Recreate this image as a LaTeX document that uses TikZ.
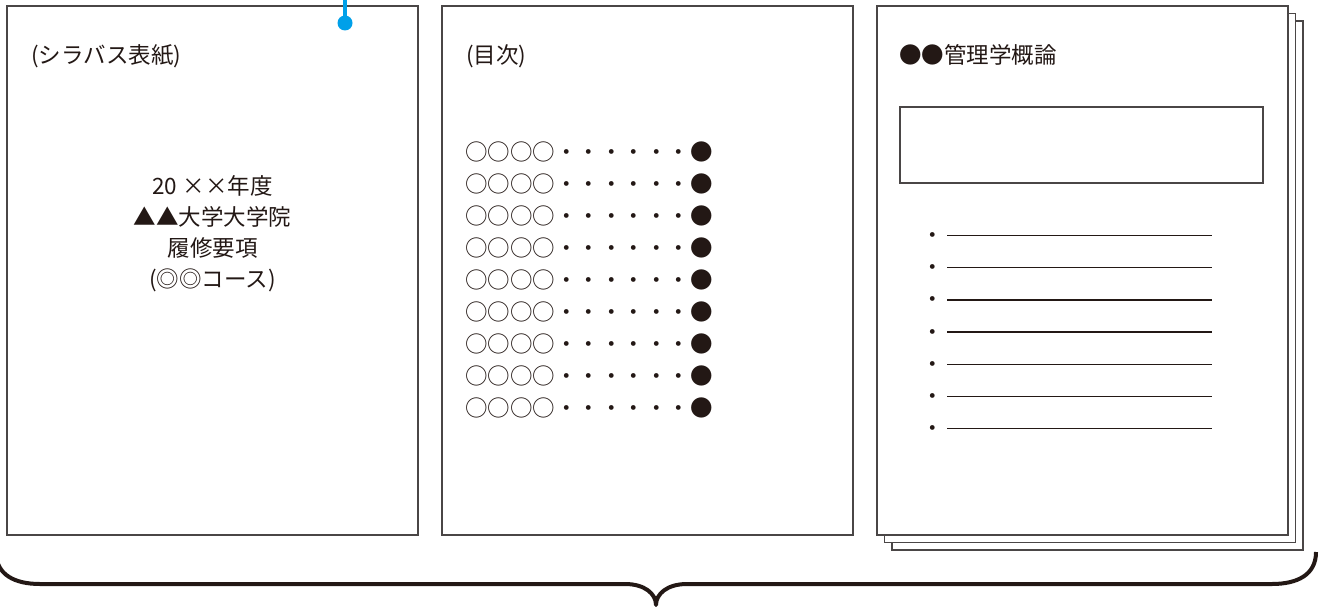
\documentclass[tikz,border=0pt]{standalone}
\usepackage{fontspec}
\usepackage{tikz}
\newfontfamily\jp{Noto Sans CJK JP}
\definecolor{cInk}{HTML}{231815}
\definecolor{cLine}{HTML}{4A4646}
\definecolor{cPin}{HTML}{00A0E9}
\newcommand{\fw}[1]{{\addfontfeature{RawFeature=+fwid}#1}}

\begin{document}
\begin{tikzpicture}[x=1pt, y=-1pt,
  every node/.style={font=\jp\fontsize{22.5}{31}\selectfont, text=cInk, inner sep=0pt},
  page/.style={draw=cLine, line width=1.2pt, fill=white},
  rule/.style={draw=cInk, line width=1.4pt},
  lead/.style={draw=cPin, line width=3.2pt},
  pin/.style={circle, fill=cPin, minimum size=15pt},
  brace/.style={draw=cInk, line width=4pt, line join=round}]
  \useasboundingbox (0,0) rectangle (1319,607);
  \draw[page] (7,6) rectangle (418,535);
  \draw[page] (442,6) rectangle (853,535);
  \foreach \d in {15,7.5,0}
    \draw[page] (877+\d,6+\d) rectangle (1288+\d,535+\d);
  \draw[page] (900,107) rectangle (1263,183);
  \coordinate (pintop) at (345,0);
  \node[pin] (pin) at (345,23) {};
  \draw[lead] (pintop) -- (pin.center);
  \node[anchor=base west] (covertitle) at (31,64) {(シラバス表紙)};
  \foreach \t [count=\i from 0] in {20 \fw{××}年度, ▲▲大学大学院, 履修要項, (◎◎コース)}
    \node[anchor=base] (cover\i) at (212.5,194.5+31*\i) {\t};
  \node[anchor=base west] (toctitle) at (466,64) {(目次)};
  \foreach \i in {0,...,8}
    \node[anchor=base west] (toc\i) at (465,160.5+32*\i) {○○○○・・・・・・●};
  \node[anchor=base west] (subjtitle) at (899,64) {●●管理学概論};
  \foreach \i in {0,...,6} {
    \node[anchor=base] (item\i) at (933,243.5+32.2*\i) {・};
    \draw[rule] (947,235.5+32.2*\i) -- (1212,235.5+32.2*\i);
  }
  \draw[brace] (-4,552) .. controls (-4,575) and (15,584) .. (40,584) -- (625,584)
    .. controls (645,584) and (656,594) .. (656,605)
    .. controls (656,594) and (667,584) .. (687,584) -- (1272,584)
    .. controls (1297,584) and (1316,575) .. (1316,552);
\end{tikzpicture}
\end{document}
